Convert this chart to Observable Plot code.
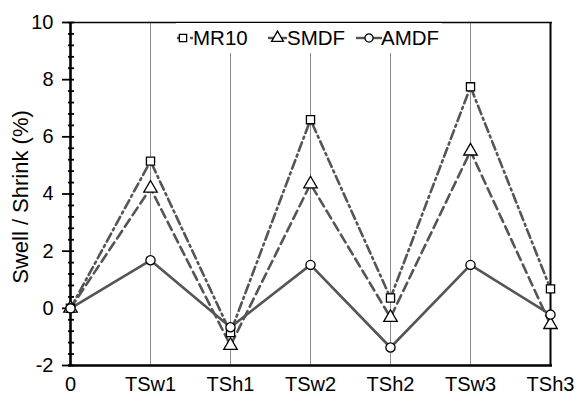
<!DOCTYPE html>
<html><head>
<meta charset="utf-8">
<script src="https://cdn.jsdelivr.net/npm/d3@7"></script>
<script src="https://cdn.jsdelivr.net/npm/@observablehq/plot@0.6"></script>
<style>
body{margin:0;background:#fff}
#wrap{position:relative;width:578px;height:398px;font-family:"Liberation Sans",Arial,sans-serif}
#wrap svg{display:block}
#legend{position:absolute;left:0;top:0;pointer-events:none}
</style>
</head><body><div id="wrap"></div>
<script>
const categories = ["0","TSw1","TSh1","TSw2","TSh2","TSw3","TSh3"];
const mr10 = [0, 5.15, -0.85, 6.6, 0.36, 7.75, 0.68];
const smdf = [0, 4.2, -1.3, 4.35, -0.32, 5.5, -0.57];
const amdf = [0, 1.68, -0.66, 1.52, -1.37, 1.52, -0.22];
const seriesNames = ["MR10", "SMDF", "AMDF"];
const yMajor = [-2, 0, 2, 4, 6, 8, 10];
const yMinor = d3.range(-20, 101, 4).map(v => v / 10).filter(v => !yMajor.includes(v));
const yTitle = "Swell / Shrink (%)";

const lineColor = "#555555";
const dashes = ["9,4,2,4", "9,5", null];
const symbols = ["square", "triangle", "circle"];
const values = [mr10, smdf, amdf];

const tables = values.map((vals, i) => categories.map((c, j) => ({cat: c, v: vals[j], s: seriesNames[i]})));

const lineMarks = tables.map((t, i) => Plot.line(t, {x: "cat", y: "v", stroke: lineColor, strokeWidth: 2.6, strokeDasharray: dashes[i] ?? undefined}));
const dotMarks = tables.map((t, i) => Plot.dot(t, {x: "cat", y: "v", symbol: () => symbols[i], r: i === 1 ? 5 : 4.6, fill: "white", stroke: "black", strokeWidth: 1.3}));

const chart = Plot.plot({
  width: 578, height: 398,
  marginLeft: 68, marginRight: 26, marginTop: 22, marginBottom: 33,
  style: {fontFamily: "'Liberation Sans', Arial, sans-serif", fontSize: "20px", background: "white", overflow: "visible"},
  x: {type: "point", domain: categories, padding: 0},
  y: {domain: [yMajor[0], yMajor[yMajor.length - 1]]},
  marks: [
    Plot.ruleX(categories, {stroke: "#8c8c8c", strokeWidth: 1}),
    ...lineMarks,
    Plot.ruleY([yMajor[yMajor.length - 1]], {stroke: "black", strokeWidth: 1.6}),
    Plot.ruleX([categories[categories.length - 1]], {stroke: "black", strokeWidth: 2}),
    Plot.ruleY([yMajor[0]], {stroke: "black", strokeWidth: 2.6}),
    Plot.ruleX([categories[0]], {stroke: "black", strokeWidth: 2.6}),
    Plot.axisY(yMinor, {tickSize: 6, dx: 6, tickFormat: () => "", label: null, strokeWidth: 1.8}),
    Plot.axisY(yMajor, {tickSize: 12, dx: 6, tickFormat: () => "", label: null, strokeWidth: 1.8}),
    Plot.axisY(yMajor, {tickSize: 0, tickPadding: 15, fontSize: 20, label: null, tickFormat: d => String(d)}),
    Plot.axisX({tickSize: 0, tickPadding: 11, fontSize: 20, label: null}),
    Plot.text([yTitle], {frameAnchor: "left", textAnchor: "middle", rotate: -90, dx: -48, dy: 3, fontSize: 22}),
    ...dotMarks
  ]
});
const wrap = document.getElementById("wrap");
wrap.appendChild(chart);

// Legend overlay
const lg = d3.select(wrap).append("svg").attr("id", "legend").attr("width", 578).attr("height", 398);
lg.append("rect").attr("x", 176).attr("y", 23).attr("width", 266).attr("height", 30).attr("fill", "white");
const items = [
  {x0: 177, x1: 193, tx: 193},
  {x0: 268, x1: 287, tx: 287},
  {x0: 356, x1: 382, tx: 381}
];
const sym = {square: d3.symbolSquare, triangle: d3.symbolTriangle, circle: d3.symbolCircle};
items.forEach((it, i) => {
  const cy = 38;
  lg.append("line").attr("x1", it.x0).attr("x2", it.x1).attr("y1", cy).attr("y2", cy)
    .attr("stroke", lineColor).attr("stroke-width", 2.4).attr("stroke-dasharray", i === 0 ? "5,3,2,3" : null);
  const r = i === 1 ? 4.4 : 4.1;
  lg.append("path").attr("d", d3.symbol(sym[symbols[i]], r * r * Math.PI)())
    .attr("transform", `translate(${(it.x0 + it.x1) / 2 - (i===0?2:0)},${cy})`)
    .attr("fill", "white").attr("stroke", "black").attr("stroke-width", 1.3);
  lg.append("text").attr("x", it.tx).attr("y", cy).attr("dy", "0.35em")
    .attr("font-size", 20.5).attr("font-family", "'Liberation Sans', Arial, sans-serif").text(seriesNames[i]);
});
</script>
</body></html>
